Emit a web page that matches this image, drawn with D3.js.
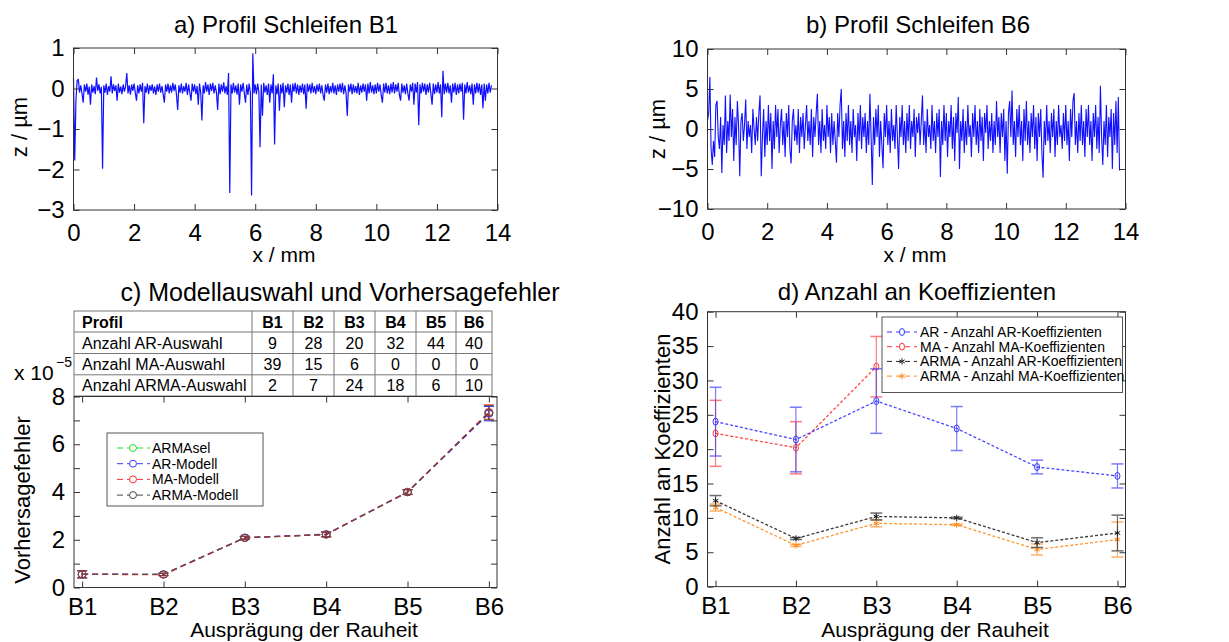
<!DOCTYPE html>
<html><head><meta charset="utf-8">
<script src="https://cdn.jsdelivr.net/npm/d3@7"></script>
<style>body{margin:0;background:#fff}svg{display:block}</style>
</head><body><svg id="c" width="1229" height="642"></svg>
<script>
// ---------------- DATA ----------------
const profileStep = 0.04; // mm between samples
const profileB1 = [
0.25,-1.78,-0.3,0.2,0.22,-0.1,0.08,-0.12,-0.35,0.1,
-0.08,0.12,-0.15,0.05,-0.4,0.1,-0.1,0.06,-0.14,0.27,
-0.06,0.1,-0.12,0.04,-1.98,0.08,-0.1,0.12,-0.16,0.06,
-0.08,0.3,-0.12,0.1,-0.06,0.08,-0.3,0.12,-0.1,0.05,
-0.14,0.1,-0.08,0.06,0.38,-0.12,0.08,-0.15,0.1,-0.06,
0.12,-0.1,-0.3,0.08,-0.12,0.1,-0.08,0.14,-0.86,0.06,
-0.1,0.12,-0.14,0.08,-0.06,0.1,-0.12,0.05,-0.16,0.1,
-0.08,0.12,-0.1,0.06,-0.14,-0.35,0.1,-0.08,0.12,-0.12,
0.08,-0.1,0.14,-0.06,0.1,-0.15,-0.53,0.08,-0.1,0.12,
-0.12,0.06,-0.08,0.14,-0.16,0.1,-0.1,-0.3,0.12,-0.08,
0.1,-0.14,0.06,-0.4,0.12,-0.1,-0.79,0.08,-0.12,0.16,
-0.08,0.1,-0.16,0.12,-0.06,0.14,-0.12,0.08,-0.1,-0.53,
0.12,-0.14,0.1,-0.08,0.15,-0.12,0.06,-0.16,0.38,-2.58,
0.1,-0.12,0.14,-0.1,0.08,-0.15,0.12,-0.4,0.1,-0.08,
0.14,-0.12,-0.35,0.1,-0.16,0.12,-0.1,-2.64,0.87,-0.12,
0.1,-0.14,0.12,-0.08,-1.45,0.1,-0.67,0.14,-0.1,0.08,
-0.16,0.12,-0.35,0.1,-0.12,0.35,-1.38,0.08,-0.14,0.12,
-0.55,0.1,-0.12,0.14,-0.46,0.08,-0.1,0.12,-0.16,0.1,
-0.35,0.12,-0.08,0.14,-0.12,0.1,-0.16,0.08,-0.1,0.12,
-0.14,0.1,-0.5,0.12,-0.08,0.1,-0.12,0.14,-0.1,0.06,
-0.14,0.1,-0.08,0.12,-0.12,0.08,-0.16,-0.3,0.1,-0.1,
0.12,-0.14,0.06,-0.1,0.14,-0.12,0.08,-0.16,0.1,-0.08,
0.12,-0.1,0.14,-0.14,0.08,-0.12,-0.68,0.1,-0.08,0.12,
-0.14,0.1,-0.1,0.06,-0.12,0.14,-0.16,0.08,-0.1,0.12,
-0.08,0.1,-0.3,0.12,-0.12,0.16,-0.1,0.08,-0.14,0.1,
-0.12,0.14,-0.08,0.1,-0.16,-0.35,0.12,-0.1,0.14,-0.12,
0.08,-0.14,0.12,-0.1,0.16,-0.12,0.1,-0.08,0.14,-0.16,
-0.3,0.12,-0.1,0.08,-0.14,0.12,-0.12,-0.3,0.1,-0.08,
0.14,-0.4,0.12,-0.1,0.16,-0.91,0.1,-0.12,0.14,-0.08,
0.12,-0.16,0.1,-0.1,0.14,-0.12,-0.4,0.12,-0.14,0.1,
-0.1,0.16,-0.12,0.1,-0.71,0.44,-0.14,0.12,-0.1,0.14,
-0.12,0.08,-0.35,0.12,-0.1,0.14,-0.16,0.1,-0.12,0.12,
-0.08,0.14,-0.77,0.1,-0.12,0.16,-0.1,0.08,-0.14,0.12,
-0.4,0.1,-0.12,0.14,-0.1,0.12,-0.16,0.1,-0.49,0.12,
-0.3,0.1,-0.12,0.14,-0.1,0.08];
const profileB6 = [
1.0,2.0,6.5,-2.5,-4.5,-1.5,-3.5,3.0,3.5,-1.0,
-2.5,1.5,-5.5,0.5,-2.0,4.2,-3.0,1.0,-1.5,4.3,
-1.0,2.5,-4.0,1.5,-2.0,3.5,0.5,-5.9,1.0,2.0,
-1.5,0.5,3.7,-2.5,1.0,-1.0,0.5,-3.0,2.5,0.0,
-2.0,1.5,-1.5,2.0,4.2,-5.9,-1.0,2.5,-3.5,1.0,
-2.0,3.0,-1.5,2.0,-5.0,1.0,-2.5,3.0,-1.0,2.5,
-3.0,0.5,2.5,-2.0,1.0,-3.5,2.0,-1.0,3.0,-2.5,
-4.3,1.0,2.5,-1.5,0.5,-2.0,2.5,-3.0,1.5,-1.0,
2.0,-2.5,0.5,3.0,-1.5,1.0,-2.0,2.5,-3.5,1.5,
-1.0,2.0,4.4,-2.0,1.0,-3.0,2.5,-1.5,0.5,-2.5,
3.0,-1.0,1.5,-3.0,2.0,-2.0,1.0,-1.5,-4.2,2.0,
-1.0,3.0,5.0,-2.5,1.0,-3.5,2.0,-1.5,3.0,-2.0,
1.0,-3.0,2.5,-1.0,0.5,-4.0,2.0,-1.5,3.0,-2.5,
1.5,-1.0,2.0,-3.0,1.0,-2.0,4.4,-1.0,-7.0,1.5,
-2.0,2.5,-1.0,3.0,-3.5,1.0,-2.0,-4.9,2.0,-1.0,
3.0,-2.0,1.0,-3.0,2.5,-1.5,0.5,-2.5,3.0,-1.0,
-5.0,1.5,-1.0,3.0,-2.0,1.0,-3.0,2.0,-1.5,3.0,
-2.5,1.0,-1.0,2.5,-3.5,1.5,-0.5,2.0,-2.0,1.0,
4.2,-2.0,1.0,-3.0,2.5,-1.0,0.5,-2.5,3.0,-1.5,
1.0,-3.0,2.0,-1.0,2.5,-6.0,1.0,-2.0,3.0,-1.5,
2.0,-3.5,1.0,-1.0,3.0,-2.5,1.5,-4.0,2.0,-0.5,
4.0,-5.0,1.0,-1.5,2.5,-3.0,1.0,-2.0,3.0,-1.0,
0.5,-3.5,2.0,-1.0,3.0,-2.0,1.0,-3.0,2.5,-1.5,
1.5,-4.0,2.0,-0.5,3.0,-2.5,1.0,-1.5,2.0,-3.0,
1.0,-2.0,3.5,-1.0,1.5,-3.0,2.0,-1.0,2.5,-4.0,
1.0,-5.6,2.0,3.5,-1.0,4.8,-2.0,1.0,-3.5,2.5,
-1.0,3.0,-2.0,1.0,-4.0,2.5,-1.5,3.5,-2.0,1.0,
-3.0,2.0,-1.0,3.0,-2.5,1.5,-4.0,2.0,-1.0,2.5,
-3.0,-6.1,1.0,-2.0,3.0,-1.5,1.0,-3.0,2.0,-1.0,
2.5,-3.5,1.0,-2.0,3.0,-1.0,0.5,-2.5,2.0,-1.5,
3.0,-2.0,1.0,-4.0,2.5,-1.0,3.5,4.5,-2.0,1.0,
-3.0,2.0,-1.5,3.0,-2.0,1.0,-3.5,2.5,-1.0,3.0,
-2.0,1.0,-4.0,2.0,-1.0,3.0,-2.5,1.5,-3.0,5.4,
-1.0,-4.5,1.0,-2.0,3.0,-3.5,1.5,-1.0,2.5,-5.0,
2.0,-2.0,3.5,-3.0,4.0,-5.2];

const profileXTicks = [0,2,4,6,8,10,12,14];
const profileB1YTicks = [-3,-2,-1,0,1];
const profileB6YTicks = [-10,-5,0,5,10];

const categories = ["B1","B2","B3","B4","B5","B6"];
const tableHeader = ["Profil","B1","B2","B3","B4","B5","B6"];
const tableRowLabels = ["Anzahl AR-Auswahl","Anzahl MA-Auswahl","Anzahl ARMA-Auswahl"];
const selAR   = [9,28,20,32,44,40];
const selMA   = [39,15,6,0,0,0];
const selARMA = [2,7,24,18,6,10];

// prediction error (x 1e-5)
const errNames = ["ARMAsel","AR-Modell","MA-Modell","ARMA-Modell"];
const errARMAsel = [0.55,0.55,2.08,2.22,4.00,7.32];
const errAR      = [0.56,0.55,2.09,2.23,4.00,7.28];
const errMA      = [0.55,0.54,2.08,2.22,4.00,7.35];
const errARMA    = [0.55,0.55,2.08,2.22,3.99,7.32];
const errSpread  = [0.15,0.05,0.06,0.10,0.10,0.30];
const errYTicks  = [0,1,2,3,4,5,6,7,8];

// coefficient counts
const coefNames = ["AR - Anzahl AR-Koeffizienten","MA - Anzahl MA-Koeffizienten","ARMA - Anzahl AR-Koeffizienten","ARMA - Anzahl MA-Koeffizienten"];
const coefAR       = [24.0,21.4,27.0,23.0,17.4,16.1];
const coefARsd     = [5.0,4.7,4.7,3.2,1.0,1.75];
const coefMA       = [22.3,20.2,32.0];
const coefMAsd     = [4.8,3.8,4.4];
const coefARMAar   = [12.5,7.0,10.2,10.0,6.4,7.8];
const coefARMAarSd = [0.75,0.15,0.5,0.1,0.7,2.6];
const coefARMAma   = [11.5,6.0,9.2,9.0,5.4,6.85];
const coefARMAmaSd = [0.5,0.15,0.5,0.1,0.8,2.55];
const coefYTicks   = [0,5,10,15,20,25,30,35,40];

// ---------------- DRAWING ----------------
const FONT = '"Liberation Sans", Arial, Helvetica, sans-serif';
const svg = d3.select("#c");
const AX = "#333";

function axes(g, x, y, o) {
  const [x0, x1] = x.range(), [y0, y1] = y.range();
  const fmt = d3.format("d");
  const parts = [
    g.append("g").attr("transform", `translate(0,${y0})`)
      .call(d3.axisBottom(x).tickValues(o.xt).tickFormat(o.xf || fmt).tickSize(-6).tickPadding(o.xpad)),
    g.append("g").attr("transform", `translate(0,${y1})`)
      .call(d3.axisTop(x).tickValues(o.xt).tickFormat("").tickSize(-6)),
    g.append("g").attr("transform", `translate(${x0},0)`)
      .call(d3.axisLeft(y).tickValues(o.yt).tickFormat(o.yf || fmt).tickSize(-6).tickPadding(o.ypad)),
    g.append("g").attr("transform", `translate(${x1},0)`)
      .call(d3.axisRight(y).tickValues(o.yt).tickFormat("").tickSize(-6))
  ];
  parts.forEach(a => {
    a.select(".domain").remove();
    a.attr("font-family", FONT).attr("font-size", o.fs);
    a.selectAll("line").attr("stroke", AX);
    a.selectAll("text").attr("fill", "#000");
  });
  g.append("rect").attr("x", x0).attr("y", y1).attr("width", x1 - x0).attr("height", y0 - y1)
    .attr("fill", "none").attr("stroke", AX).attr("stroke-width", 1);
}
function label(t, x, y, size, rot, anchor) {
  const e = svg.append("text").attr("font-family", FONT).attr("font-size", size)
    .attr("text-anchor", anchor || "middle").attr("fill", "#000").text(t);
  if (rot) e.attr("transform", `translate(${x},${y}) rotate(-90)`);
  else e.attr("x", x).attr("y", y);
  return e;
}

// ---- a) ----
{
  const g = svg.append("g");
  const x = d3.scaleLinear().domain([0, 14]).range([73.5, 497.5]);
  const y = d3.scaleLinear().domain([-3, 1]).range([210, 48]);
  g.append("path").datum(profileB1)
    .attr("d", d3.line().x((d, i) => x(i * profileStep)).y(d => y(d)))
    .attr("fill", "none").attr("stroke", "#1010ff").attr("stroke-width", 1.2);
  axes(g, x, y, {xt: profileXTicks, yt: profileB1YTicks, fs: 24, xpad: 14, ypad: 9});
  label("a) Profil Schleifen B1", 286, 33, 24);
  label("z / µm", 27, 127, 22, true);
  label("x / mm", 284, 262, 21);
}
// ---- b) ----
{
  const g = svg.append("g");
  const x = d3.scaleLinear().domain([0, 14]).range([707.5, 1125.5]);
  const y = d3.scaleLinear().domain([-10, 10]).range([209, 49]);
  g.append("path").datum(profileB6)
    .attr("d", d3.line().x((d, i) => x(i * profileStep)).y(d => y(d)))
    .attr("fill", "none").attr("stroke", "#1010ff").attr("stroke-width", 1.1);
  axes(g, x, y, {xt: profileXTicks, yt: profileB6YTicks, fs: 24, xpad: 14, ypad: 9});
  label("b) Profil Schleifen B6", 918, 33, 24);
  label("z / µm", 665, 129, 22, true);
  label("x / mm", 915, 262, 21);
}
// ---- c) ----
{
  const g = svg.append("g");
  const x = d3.scaleLinear().domain([0.9, 6.1]).range([74, 497]);
  const y = d3.scaleLinear().domain([0, 8]).range([587.5, 396.5]);
  label("c) Modellauswahl und Vorhersagefehler", 340, 301, 25);
  // table
  const colX = [74, 252, 293, 334, 375, 416, 456, 492];
  const rowY = [311, 332, 353.5, 374.8, 396];
  const rows = [tableHeader, [tableRowLabels[0], ...selAR], [tableRowLabels[1], ...selMA], [tableRowLabels[2], ...selARMA]];
  const tg = g.append("g");
  tg.append("rect").attr("x", colX[0]).attr("y", rowY[0]).attr("width", colX[7] - colX[0]).attr("height", rowY[4] - rowY[0])
    .attr("fill", "#fff").attr("stroke", "#777");
  rowY.slice(1, 4).forEach(v => tg.append("line").attr("x1", colX[0]).attr("x2", colX[7]).attr("y1", v).attr("y2", v).attr("stroke", "#777"));
  colX.slice(1, 7).forEach(v => tg.append("line").attr("x1", v).attr("x2", v).attr("y1", rowY[0]).attr("y2", rowY[4]).attr("stroke", "#777"));
  rows.forEach((r, ri) => {
    r.forEach((c, ci) => {
      const t = tg.append("text").attr("font-family", FONT).attr("font-size", 16).attr("fill", "#000")
        .attr("font-weight", ri === 0 ? "bold" : "normal")
        .attr("y", (rowY[ri] + rowY[ri + 1]) / 2 + 6).text(c);
      if (ci === 0) t.attr("x", colX[0] + 8);
      else t.attr("x", (colX[ci] + colX[ci + 1]) / 2).attr("text-anchor", "middle");
    });
  });
  axes(g, x, y, {xt: [1, 2, 3, 4, 5, 6], xf: d => categories[d - 1], yt: errYTicks,
    yf: d => (d % 2 === 0 ? String(d) : ""), fs: 24, xpad: 10, ypad: 9});
  // exponent label
  label("x 10", 14, 380, 21, false, "start");
  label("\u22125", 56, 367, 14, false, "start");
  const series = [
    {v: errARMAsel, c: "#22e022"},
    {v: errAR, c: "#3a3aff"},
    {v: errMA, c: "#ff3030"},
    {v: errARMA, c: "#444", op: 0.65}
  ];
  series.forEach(s => {
    const sg = g.append("g").attr("opacity", s.op || 1);
    sg.append("path").datum(s.v).attr("d", d3.line().x((d, i) => x(i + 1)).y(d => y(d)))
      .attr("fill", "none").attr("stroke", s.c).attr("stroke-width", 1.3).attr("stroke-dasharray", "6,4");
    s.v.forEach((d, i) => {
      const cx = x(i + 1), e = errSpread[i];
      sg.append("line").attr("x1", cx).attr("x2", cx).attr("y1", y(d - e)).attr("y2", y(d + e)).attr("stroke", s.c);
      [d - e, d + e].forEach(b => sg.append("line").attr("x1", cx - 5).attr("x2", cx + 5).attr("y1", y(b)).attr("y2", y(b)).attr("stroke", s.c));
      sg.append("ellipse").attr("cx", cx).attr("cy", y(d)).attr("rx", 4).attr("ry", 3.6).attr("fill", "none").attr("stroke", s.c);
    });
  });
  // legend
  const lg = g.append("g");
  lg.append("rect").attr("x", 107).attr("y", 433).attr("width", 156).attr("height", 73).attr("fill", "#fff").attr("stroke", "#555");
  const legC = ["#22e022", "#3a3aff", "#ff3030", "#444"];
  errNames.forEach((n, i) => {
    const yy = 448 + i * 15.7;
    lg.append("line").attr("x1", 117).attr("x2", 150).attr("y1", yy).attr("y2", yy).attr("stroke", legC[i]).attr("stroke-dasharray", "6,4");
    lg.append("ellipse").attr("cx", 133).attr("cy", yy).attr("rx", 3.5).attr("ry", 3.5).attr("fill", "#fff").attr("stroke", legC[i]);
    lg.append("text").attr("x", 152).attr("y", yy + 5).attr("font-family", FONT).attr("font-size", 14).attr("fill", "#000").text(n);
  });
  label("Vorhersagefehler", 30, 500, 22, true);
  label("Ausprägung der Rauheit", 304, 637, 21);
}
// ---- d) ----
{
  const g = svg.append("g");
  const x = d3.scaleLinear().domain([0.9, 6.1]).range([707.5, 1125.5]);
  const y = d3.scaleLinear().domain([0, 40]).range([586.6, 311.7]);
  axes(g, x, y, {xt: [1, 2, 3, 4, 5, 6], xf: d => categories[d - 1], yt: coefYTicks, fs: 24, xpad: 10, ypad: 9});
  label("d) Anzahl an Koeffizienten", 917, 300, 24);
  const series = [
    {v: coefARMAma, e: coefARMAmaSd, c: "#ff8a1a", m: "star"},
    {v: coefARMAar, e: coefARMAarSd, c: "#222", m: "star"},
    {v: coefMA, e: coefMAsd, c: "#ff3535", m: "o"},
    {v: coefAR, e: coefARsd, c: "#3535ff", m: "o"}
  ];
  const star = d3.symbol().type(d3.symbolAsterisk || d3.symbolCross).size(28);
  series.forEach(s => {
    const sg = g.append("g");
    sg.append("path").datum(s.v).attr("d", d3.line().x((d, i) => x(i + 1)).y(d => y(d)))
      .attr("fill", "none").attr("stroke", s.c).attr("stroke-width", 1.3).attr("stroke-dasharray", "3,2").attr("opacity", 0.9);
    s.v.forEach((d, i) => {
      const cx = x(i + 1), e = s.e[i];
      const eg = sg.append("g").attr("opacity", 0.65);
      eg.append("line").attr("x1", cx).attr("x2", cx).attr("y1", y(d - e)).attr("y2", y(d + e)).attr("stroke", s.c).attr("stroke-width", 1.2);
      [d - e, d + e].forEach(b => eg.append("line").attr("x1", cx - 6).attr("x2", cx + 6).attr("y1", y(b)).attr("y2", y(b)).attr("stroke", s.c).attr("stroke-width", 1.5));
      if (s.m === "o") sg.append("ellipse").attr("cx", cx).attr("cy", y(d)).attr("rx", 2.5).attr("ry", 3.5).attr("fill", "none").attr("stroke", s.c);
      else sg.append("path").attr("d", star()).attr("transform", `translate(${cx},${y(d)})`).attr("fill", "none").attr("stroke", s.c);
    });
  });
  // legend
  const lg = g.append("g");
  lg.append("rect").attr("x", 882).attr("y", 317).attr("width", 240.5).attr("height", 75.5).attr("fill", "#fff").attr("stroke", "#555");
  const legC = ["#3535ff", "#ff3535", "#222", "#ff8a1a"];
  const legM = ["o", "o", "star", "star"];
  coefNames.forEach((n, i) => {
    const yy = 332 + i * 14.7;
    lg.append("line").attr("x1", 887).attr("x2", 917).attr("y1", yy).attr("y2", yy).attr("stroke", legC[i]).attr("stroke-dasharray", "5,4");
    if (legM[i] === "o") lg.append("ellipse").attr("cx", 902).attr("cy", yy).attr("rx", 2.5).attr("ry", 3.5).attr("fill", "#fff").attr("stroke", legC[i]);
    else lg.append("path").attr("d", star()).attr("transform", `translate(902,${yy})`).attr("fill", "none").attr("stroke", legC[i]);
    lg.append("text").attr("x", 920).attr("y", yy + 5).attr("font-family", FONT).attr("font-size", 14).attr("fill", "#000").text(n);
  });
  label("Anzahl an Koeffizienten", 670, 449, 22, true);
  label("Ausprägung der Rauheit", 935, 637, 21);
}
</script></body></html>
